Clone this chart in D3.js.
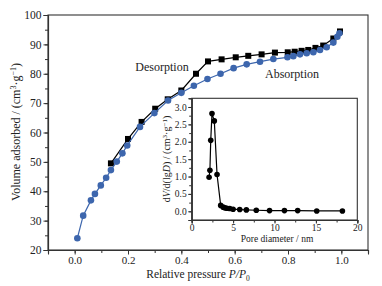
<!DOCTYPE html>
<meta charset="utf-8">
<script src="https://cdn.jsdelivr.net/npm/d3@7"></script>
<style>
body { margin: 0; background: #fff; }
svg { font-family: "Liberation Serif", "DejaVu Serif", serif; }
</style>
<div id="chart"></div>
<script>
// adsorption branch (blue circles)
var adsP = [0.01, 0.032, 0.061, 0.076, 0.098, 0.118, 0.136, 0.158, 0.179, 0.197, 0.245, 0.299, 0.35, 0.4, 0.447, 0.498, 0.547, 0.596, 0.645, 0.695, 0.745, 0.798, 0.82, 0.845, 0.87, 0.895, 0.92, 0.945, 0.97, 0.985, 0.993];
var adsV = [24.0, 31.7, 36.9, 39.1, 42.0, 44.6, 47.2, 50.1, 52.9, 55.6, 61.9, 66.6, 70.9, 73.5, 75.9, 78.2, 80.0, 81.9, 83.2, 84.1, 85.0, 85.6, 86.0, 86.6, 87.0, 87.3, 88.1, 89.0, 90.6, 92.6, 93.8];
// desorption branch (black squares)
var desP = [0.136, 0.2, 0.251, 0.302, 0.349, 0.4, 0.455, 0.5, 0.551, 0.604, 0.651, 0.701, 0.751, 0.799, 0.825, 0.851, 0.876, 0.903, 0.932, 0.97, 0.995];
var desV = [49.5, 57.8, 63.6, 68.1, 71.3, 74.3, 80.0, 84.2, 84.9, 85.6, 86.1, 86.6, 87.2, 87.3, 87.5, 87.8, 88.1, 88.8, 89.6, 92.0, 94.4];
// pore size distribution (inset)
var poreD = [2.1, 2.2, 2.3, 2.45, 2.73, 3.06, 3.5, 3.8, 4.0, 4.25, 4.6, 5.0, 5.8, 6.6, 7.8, 9.4, 11.2, 12.8, 15.1, 18.2];
var poreV = [0.98, 1.18, 2.04, 2.81, 2.6, 1.06, 0.17, 0.12, 0.1, 0.09, 0.08, 0.06, 0.05, 0.04, 0.03, 0.02, 0.02, 0.02, 0.01, 0.01];

var xTicks = [0, 0.2, 0.4, 0.6, 0.8, 1.0];
var yTicks = [20, 30, 40, 50, 60, 70, 80, 90, 100];
var inXTicks = [0, 5, 10, 15, 20];
var inYTicks = [0, 0.5, 1, 1.5, 2, 2.5, 3];

var blue = "#3d66ad";
var frame = "#333";

var svg = d3.select("#chart").append("svg")
  .attr("width", 382).attr("height", 286);

var x = d3.scaleLinear().domain([-0.1, 1.1]).range([48, 368]);
var y = d3.scaleLinear().domain([20, 100]).range([250, 15]);

// frame
svg.append("rect").attr("x", 48).attr("y", 15).attr("width", 320).attr("height", 235)
  .attr("fill", "none").attr("stroke", frame).attr("stroke-width", 1.1);

function styleAxis(g, fs) {
  g.select(".domain").attr("stroke", frame).attr("stroke-width", 1.1);
  g.selectAll(".tick line").attr("stroke", frame);
  g.selectAll("text").attr("font-family", "Liberation Serif").attr("font-size", fs).attr("fill", "#222");
}

// minor ticks
svg.append("g").attr("transform", "translate(0,250)")
  .call(d3.axisBottom(x).tickValues(d3.range(-0.1, 1.11, 0.1)).tickSize(3).tickFormat(""))
  .call(function(g) { styleAxis(g, 11); });
svg.append("g").attr("transform", "translate(48,0)")
  .call(d3.axisLeft(y).tickValues(d3.range(20, 101, 5)).tickSize(3).tickFormat(""))
  .call(function(g) { styleAxis(g, 11); });

svg.append("g").attr("transform", "translate(0,250)")
  .call(d3.axisBottom(x).tickValues(xTicks).tickSize(4.5).tickPadding(2).tickFormat(d3.format(".1f")))
  .call(function(g) { styleAxis(g, 11); });
svg.append("g").attr("transform", "translate(48,0)")
  .call(d3.axisLeft(y).tickValues(yTicks).tickSize(4.5).tickPadding(2).tickFormat(d3.format("d")))
  .call(function(g) { styleAxis(g, 11.5); });

// axis titles
var yt = svg.append("text").attr("transform", "translate(20,132) rotate(-90)")
  .attr("text-anchor", "middle").attr("font-size", 12).attr("fill", "#222");
yt.append("tspan").text("Volume adsorbed / (cm");
yt.append("tspan").attr("font-size", 8).attr("dy", -4).text("3");
yt.append("tspan").attr("dy", 4).text("·g");
yt.append("tspan").attr("font-size", 8).attr("dy", -4).text("−1");
yt.append("tspan").attr("dy", 4).text(")");

var xt = svg.append("text").attr("x", 198).attr("y", 278)
  .attr("text-anchor", "middle").attr("font-size", 11.5).attr("fill", "#222");
xt.append("tspan").text("Relative pressure ");
xt.append("tspan").attr("font-style", "italic").text("P/P");
xt.append("tspan").attr("font-size", 7.5).attr("dy", 3).text("0");

// curves
var line = d3.line().x(function(d) { return x(d[0]); }).y(function(d) { return y(d[1]); });
var ads = d3.zip(adsP, adsV);
var des = d3.zip(desP, desV);

svg.append("path").datum(des).attr("d", line).attr("fill", "none").attr("stroke", "#000").attr("stroke-width", 1.2);
svg.selectAll(".des").data(des).enter().append("rect")
  .attr("x", function(d) { return x(d[0]) - 3; }).attr("y", function(d) { return y(d[1]) - 3; })
  .attr("width", 6).attr("height", 6).attr("fill", "#000");

svg.append("path").datum(ads).attr("d", line).attr("fill", "none").attr("stroke", blue).attr("stroke-width", 1.2);
svg.selectAll(".ads").data(ads).enter().append("circle")
  .attr("cx", function(d) { return x(d[0]); }).attr("cy", function(d) { return y(d[1]); })
  .attr("r", 3.3).attr("fill", blue);

svg.append("text").attr("x", 162).attr("y", 71).attr("text-anchor", "middle")
  .attr("font-size", 12).attr("fill", "#222").text("Desorption");
svg.append("text").attr("x", 292).attr("y", 78).attr("text-anchor", "middle")
  .attr("font-size", 12).attr("fill", "#222").text("Absorption");

// inset
var ix = d3.scaleLinear().domain([0, 20]).range([191.7, 357.3]);
var iy = d3.scaleLinear().domain([-0.25, 3.25]).range([220, 98.3]);

svg.append("rect").attr("x", 191.7).attr("y", 98.3).attr("width", 165.6).attr("height", 121.7)
  .attr("fill", "#fff").attr("stroke", frame).attr("stroke-width", 1.1);

svg.append("g").attr("transform", "translate(0,220)")
  .call(d3.axisBottom(ix).tickValues(d3.range(0, 20.1, 2.5)).tickSize(2.5).tickFormat(""))
  .call(function(g) { styleAxis(g, 9.5); });
svg.append("g").attr("transform", "translate(191.7,0)")
  .call(d3.axisLeft(iy).tickValues(d3.range(-0.25, 3.26, 0.25)).tickSize(2.5).tickFormat(""))
  .call(function(g) { styleAxis(g, 9.5); });
svg.append("g").attr("transform", "translate(0,220)")
  .call(d3.axisBottom(ix).tickValues(inXTicks).tickSize(3.5).tickPadding(1).tickFormat(d3.format("d")))
  .call(function(g) { styleAxis(g, 9.5); });
svg.append("g").attr("transform", "translate(191.7,0)")
  .call(d3.axisLeft(iy).tickValues(inYTicks).tickSize(3.5).tickPadding(1.5).tickFormat(d3.format(".1f")))
  .call(function(g) { styleAxis(g, 9.5); });

var ilab = svg.append("text").attr("transform", "translate(170,159) rotate(-90)")
  .attr("text-anchor", "middle").attr("font-size", 10).attr("fill", "#222");
ilab.append("tspan").text("d");
ilab.append("tspan").attr("font-style", "italic").text("V");
ilab.append("tspan").text("/d(lg");
ilab.append("tspan").attr("font-style", "italic").text("D");
ilab.append("tspan").text(") / (cm");
ilab.append("tspan").attr("font-size", 7).attr("dy", -3).text("3");
ilab.append("tspan").attr("dy", 3).text("·g");
ilab.append("tspan").attr("font-size", 7).attr("dy", -3).text("−1");
ilab.append("tspan").attr("dy", 3).text(")");

svg.append("text").attr("x", 277).attr("y", 242).attr("text-anchor", "middle")
  .attr("font-size", 9.5).attr("fill", "#222").text("Pore diameter / nm");

var pore = d3.zip(poreD, poreV);
var iline = d3.line().x(function(d) { return ix(d[0]); }).y(function(d) { return iy(d[1]); });
svg.append("path").datum(pore).attr("d", iline).attr("fill", "none").attr("stroke", "#000").attr("stroke-width", 1.2);
svg.selectAll(".pore").data(pore).enter().append("circle")
  .attr("cx", function(d) { return ix(d[0]); }).attr("cy", function(d) { return iy(d[1]); })
  .attr("r", 2.8).attr("fill", "#000");
</script>
